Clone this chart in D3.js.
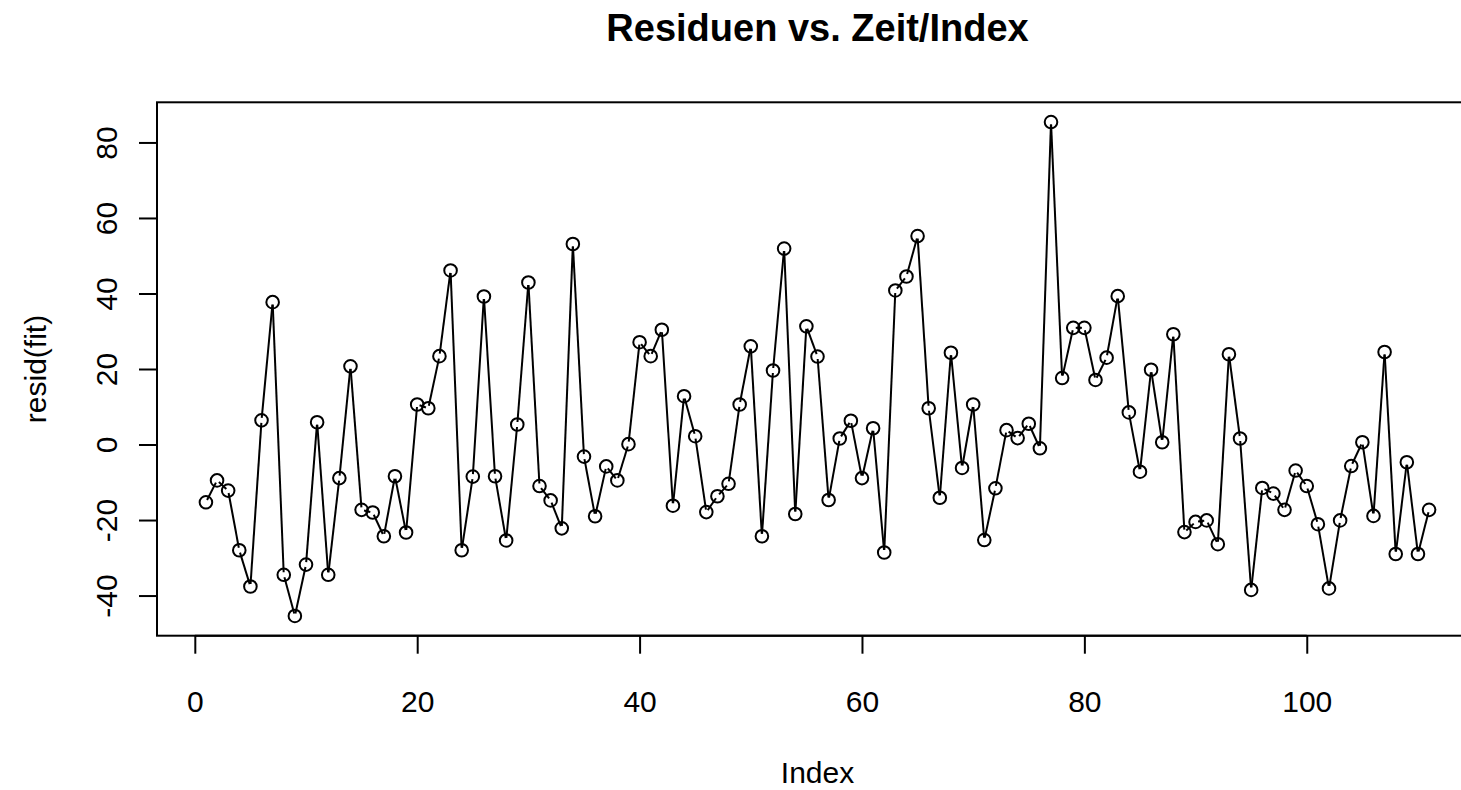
<!DOCTYPE html>
<html>
<head>
<meta charset="utf-8">
<script src="https://cdn.jsdelivr.net/npm/d3@7"></script>
<style>
  body { margin: 0; background: #fff; }
  svg text { font-family: "Liberation Sans", Arial, Helvetica, sans-serif; fill: #000; }
</style>
</head>
<body>
<svg id="chart" width="1461" height="790"></svg>
<script>
// residuals, index 1..111
let resid = [
    -15.3, -9.5, -12.2, -28.0, -37.6, 6.4, 37.7, -34.5, -45.4, -31.8,
    5.9, -34.5, -8.9, 20.7, -17.3, -18.0, -24.3, -8.4, -23.3, 10.6,
    9.6, 23.4, 46.1, -28.0, -8.5, 39.2, -8.4, -25.4, 5.3, 42.9,
    -11.0, -14.8, -22.2, 53.1, -3.2, -19.0, -5.8, -9.5, 0.1, 27.1,
    23.4, 30.4, -16.2, 12.8, 2.2, -17.9, -13.7, -10.4, 10.6, 26.0,
    -24.3, 19.6, 51.9, -18.4, 31.3, 23.3, -14.7, 1.6, 6.3, -8.9,
    4.3, -28.6, 40.8, 44.5, 55.2, 9.6, -14.1, 24.3, -6.2, 10.6,
    -25.3, -11.6, 3.8, 1.7, 5.5, -1.0, 85.4, 17.6, 30.9, 30.9,
    17.1, 23.0, 39.3, 8.5, -7.2, 19.8, 0.6, 29.2, -23.2, -20.5,
    -20.1, -26.4, 23.9, 1.6, -38.5, -11.5, -13.0, -17.3, -6.9, -11.0,
    -21.1, -38.1, -20.1, -5.7, 0.6, -18.9, 24.5, -29.0, -4.7, -29.0,
    -17.3
];
let xTicks = [0, 20, 40, 60, 80, 100];
let yTicks = [-40, -20, 0, 20, 40, 60, 80];
let title = "Residuen vs. Zeit/Index";
let xLabel = "Index";
let yLabel = "resid(fit)";

let data = resid.map((v, i) => ({i: i + 1, r: v}));

const svg = d3.select("#chart");
const pLeft = 157, pRight = 1478, pTop = 102.3, pBottom = 635.7;
const lw = 2;

// R style 4% padding around the data range
function padded(ext) {
    let d = (ext[1] - ext[0]) * 0.04;
    return [ext[0] - d, ext[1] + d];
}

let x = d3.scaleLinear().domain(padded([1, data.length])).range([pLeft, pRight]);
let y = d3.scaleLinear().domain(padded(d3.extent(resid))).range([pBottom, pTop]);

svg.append("rect").attr("width", 1461).attr("height", 790).attr("fill", "#fff");

// line segments with a small gap at each point (type = "b")
const gap = 2.5;
let segs = svg.append("g");
for (let k = 1; k < data.length; k++) {
    let x0 = x(data[k - 1].i), y0 = y(data[k - 1].r);
    let x1 = x(data[k].i), y1 = y(data[k].r);
    let len = Math.hypot(x1 - x0, y1 - y0);
    if (len <= 2 * gap) continue;
    let f = gap / len;
    segs.append("line")
        .attr("x1", x0 + f * (x1 - x0)).attr("y1", y0 + f * (y1 - y0))
        .attr("x2", x1 - f * (x1 - x0)).attr("y2", y1 - f * (y1 - y0))
        .attr("stroke", "#000").attr("stroke-width", lw);
}

svg.append("g").selectAll("circle")
    .data(data)
    .enter().append("circle")
    .attr("cx", d => x(d.i))
    .attr("cy", d => y(d.r))
    .attr("r", 6.3)
    .attr("fill", "none")
    .attr("stroke", "#000")
    .attr("stroke-width", lw);

// box
svg.append("rect")
    .attr("x", pLeft).attr("y", pTop)
    .attr("width", pRight - pLeft).attr("height", pBottom - pTop)
    .attr("fill", "none").attr("stroke", "#000").attr("stroke-width", lw);

// plain hyphen minus like R prints it
const fmt = d => String(d);

// x axis
let xAxis = d3.axisBottom(x).tickValues(xTicks).tickSize(18).tickPadding(0).tickFormat(fmt);
let gx = svg.append("g").attr("transform", `translate(0,${pBottom})`).call(xAxis);
gx.select(".domain").attr("d", `M${x(xTicks[0])},0H${x(xTicks[xTicks.length - 1])}`).attr("stroke-width", lw);
gx.selectAll(".tick line").attr("stroke-width", lw);
gx.selectAll(".tick text")
    .attr("y", 76).attr("dy", null)
    .style("font-size", "30px").style("font-family", "Liberation Sans, Arial, sans-serif");

// y axis, labels turned like R's las = 0
let yAxis = d3.axisLeft(y).tickValues(yTicks).tickSize(18).tickFormat(fmt);
let gy = svg.append("g").attr("transform", `translate(${pLeft},0)`).call(yAxis);
gy.select(".domain").attr("d", `M0,${y(yTicks[0])}V${y(yTicks[yTicks.length - 1])}`).attr("stroke-width", lw);
gy.selectAll(".tick line").attr("stroke-width", lw);
gy.selectAll(".tick text")
    .attr("x", null).attr("dy", null)
    .attr("text-anchor", "middle")
    .attr("transform", "translate(-40,0) rotate(-90)")
    .style("font-size", "30px").style("font-family", "Liberation Sans, Arial, sans-serif");

svg.append("text")
    .attr("x", (pLeft + pRight) / 2).attr("y", 41)
    .attr("text-anchor", "middle")
    .style("font-size", "38px").style("font-weight", "bold")
    .text(title);

svg.append("text")
    .attr("x", (pLeft + pRight) / 2).attr("y", 783)
    .attr("text-anchor", "middle")
    .style("font-size", "30px")
    .text(xLabel);

svg.append("text")
    .attr("transform", `translate(46,${(pTop + pBottom) / 2}) rotate(-90)`)
    .attr("text-anchor", "middle")
    .style("font-size", "30px")
    .text(yLabel);
</script>
</body>
</html>
